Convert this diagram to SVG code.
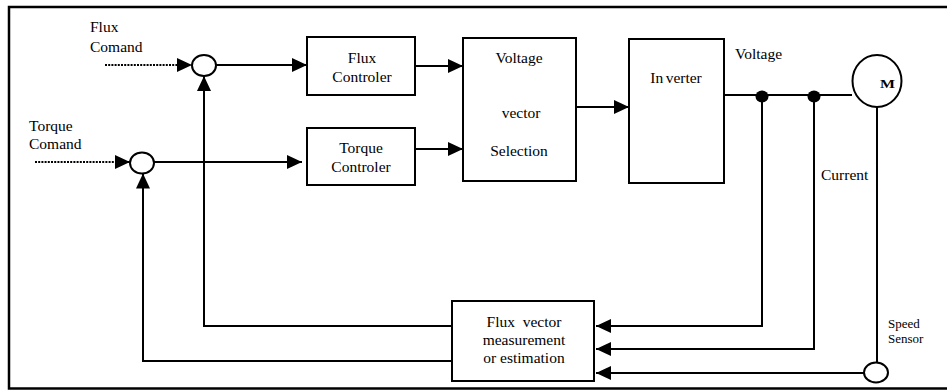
<svg xmlns="http://www.w3.org/2000/svg" width="947" height="390" viewBox="0 0 947 390">
<defs>
<marker id="ah" markerUnits="userSpaceOnUse" markerWidth="15" markerHeight="14" refX="15" refY="7" orient="auto">
<path d="M0,0 L15,7 L0,14 z" fill="#000"/>
</marker>
<style>
.b{fill:#fff;stroke:#000;stroke-width:2}
.c{fill:none;stroke:#000;stroke-width:2}
.d{fill:none;stroke:#000;stroke-width:2;stroke-dasharray:2,1.2}
.a{marker-end:url(#ah)}
.t{font-family:'Liberation Serif','DejaVu Serif',serif;font-size:15.5px;fill:#000}
.m{text-anchor:middle}
.s{font-size:13px}
</style>
</defs>
<rect width="947" height="390" fill="#fff"/>
<path d="M950,7 L9,7 L9,388.5 L950,388.5" fill="none" stroke="#000" stroke-width="2.5"/>

<g id="connectors">
<line class="d a" x1="105" y1="65" x2="192" y2="65"/>
<line class="d a" x1="35" y1="162" x2="130" y2="162"/>
<line class="c a" x1="216" y1="65" x2="307" y2="65"/>
<line class="c a" x1="154" y1="162" x2="302" y2="162"/>
<line class="c a" x1="415" y1="66" x2="463" y2="66"/>
<line class="c a" x1="415" y1="149" x2="463" y2="149"/>
<line class="c a" x1="576" y1="107" x2="629" y2="107"/>
<line class="c" x1="724" y1="95" x2="852" y2="95"/>
<polyline class="c a" points="762,95 762,326 596,326"/>
<polyline class="c a" points="814,95 814,349 596,349"/>
<line class="c" x1="877" y1="107" x2="877" y2="362"/>
<line class="c a" x1="864" y1="373" x2="596" y2="373"/>
<polyline class="c a" points="452,326 204,326 204,76"/>
<polyline class="c a" points="452,361 143,361 143,173.5"/>
<ellipse cx="762" cy="96.5" rx="6.5" ry="6" fill="#000"/>
<ellipse cx="814" cy="96.5" rx="6.5" ry="6" fill="#000"/>
</g>

<g id="flux-command" class="t">
<text x="90" y="32">Flux</text>
<text x="90" y="52">Comand</text>
</g>
<g id="torque-command" class="t">
<text x="29" y="131">Torque</text>
<text x="29" y="149">Comand</text>
</g>
<g id="flux-sum"><ellipse class="b" cx="204" cy="65.5" rx="12" ry="10.5"/></g>
<g id="torque-sum"><ellipse class="b" cx="142" cy="163" rx="12" ry="10.5"/></g>
<g id="flux-controller" class="t">
<rect class="b" x="307" y="37" width="108" height="58"/>
<text class="m" x="362" y="63">Flux</text>
<text class="m" x="362" y="82">Controler</text>
</g>
<g id="torque-controller" class="t">
<rect class="b" x="307" y="128" width="108" height="57"/>
<text class="m" x="361" y="153">Torque</text>
<text class="m" x="361" y="172">Controler</text>
</g>
<g id="voltage-vector-selection" class="t">
<rect class="b" x="463" y="38" width="113" height="143"/>
<text class="m" x="519" y="63">Voltage</text>
<text class="m" x="521" y="118">vector</text>
<text class="m" x="519" y="156">Selection</text>
</g>
<g id="inverter" class="t">
<rect class="b" x="629" y="39" width="95" height="144"/>
<text class="m" x="676" y="83">In<tspan dx="2.5">verter</tspan></text>
</g>
<g id="voltage-label" class="t"><text x="735" y="59">Voltage</text></g>
<g id="current-label" class="t"><text x="821" y="180">Current</text></g>
<g id="motor" class="t">
<ellipse class="b" cx="877" cy="81" rx="24.5" ry="26"/>
<text x="880" y="88" font-size="12" font-weight="bold" textLength="15" lengthAdjust="spacingAndGlyphs">M</text>
</g>
<g id="speed-sensor" class="t s">
<ellipse class="b" cx="876" cy="372.5" rx="12" ry="10"/>
<text x="888" y="328">Speed</text>
<text x="888" y="343">Sensor</text>
</g>
<g id="flux-vector-estimation" class="t">
<rect class="b" x="452" y="301" width="142" height="80"/>
<text class="m" x="524" y="327" style="white-space:pre">Flux  vector</text>
<text class="m" x="524" y="345">measurement</text>
<text class="m" x="524" y="363">or estimation</text>
</g>
</svg>
